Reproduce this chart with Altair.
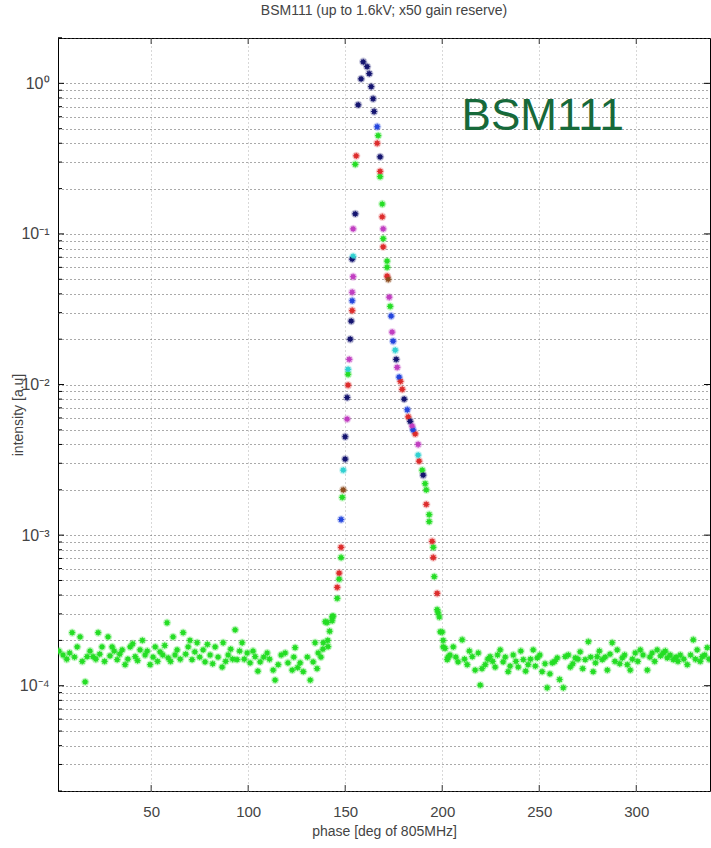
import altair as alt
import pandas as pd

# ---------------- data ----------------
green_x = [4.6, 9.3, 11.9, 13.4, 16, 17, 20.1, 22.7, 24.7, 27.8, 29.9, 32.5, 35.1, 36.6, 39.2, 41.8, 44.3, 46.9,
           49.5, 52.1, 54.6, 58.2, 58.8, 61.3, 63.4, 66.5, 69.1, 71.1, 73.7, 76.8, 77.8, 80.4, 83, 86.6, 87.1, 89.7,
           93.3, 94.3, 96.9, 99.5, 101, 103.6, 106.2, 109.8, 112.9, 113.9, 115.5, 119.1, 122.7, 124.2, 126.8, 128.4,
           132, 133.5, 136.1, 134.5, 139.7, 143.3,
           2.5, 6.5, 8, 10.5, 14.5, 18.5, 21.5, 23.5, 26, 28.8, 31, 33.8, 38, 40.5, 43, 45.5, 48, 51, 53.3, 56, 57,
           60, 62.3, 65, 67.8, 70, 72.5, 75, 79, 81.7, 84.5, 88.4, 91, 92, 95.6, 98, 102.5, 105, 108, 111, 117,
           120.5, 123.5, 125.5, 130.5, 135.5, 137.5, 138.5, 141, 142,
           197.9, 199, 200.5, 202.6, 205.7, 208.2, 210.3, 212.9, 215.5, 217, 219.6, 218.6, 222.2, 224.7, 227.3,
           229.9, 231.4, 234, 236.6, 239.2, 241.8, 244.3, 246.9, 249, 251.5, 254.1, 256.7, 259.3, 262.4, 263.4,
           266, 268.6, 271.1, 273.7, 275.3, 277.8, 279.9, 282.5, 285.1, 287.6, 290.2, 292.8, 295.4, 296.9, 299.5,
           302.1, 305.7, 308.2, 310.8, 313.9, 316, 319.1, 322.7, 326.3, 329.4, 331.4, 334, 336.6,
           204, 207, 211.5, 214, 220.5, 223.5, 226, 228.5, 232.5, 235, 238, 240.5, 243, 245.5, 248, 250.3, 253,
           255.5, 258, 260.5, 265, 267.3, 270, 272.4, 276.5, 279, 281, 284, 286.5, 289, 291.5, 294, 298, 300.8,
           303.5, 307, 309.5, 312.5, 315, 317.5, 320.5, 321.5, 324.5, 328, 330.5, 333, 335.3, 337.5,
           167, 155.2, 168, 169.1, 169.6, 171.6, 171.6, 173.2, 151.5, 189.7, 191.2, 191.8, 193.3, 193.3, 148.5,
           147.9, 146.9, 145.9, 143.8, 143.3, 140.7, 141.2, 138.7, 195.4, 195.9, 197.4, 198.5, 200, 200.5, 201.5,
           203]
green_y = [1.60e-4, 2.25e-4, 1.81e-4, 2.11e-4, 1.06e-4, 1.56e-4, 1.56e-4, 2.25e-4, 1.81e-4, 2.11e-4, 1.81e-4,
           1.49e-4, 1.73e-4, 1.38e-4, 1.81e-4, 1.56e-4, 1.73e-4, 1.60e-4, 1.38e-4, 1.81e-4, 1.68e-4, 2.62e-4,
           1.53e-4, 2.11e-4, 1.73e-4, 2.25e-4, 1.81e-4, 1.49e-4, 1.93e-4, 1.73e-4, 1.44e-4, 1.60e-4, 1.81e-4,
           1.33e-4, 1.93e-4, 1.60e-4, 2.35e-4, 1.49e-4, 1.93e-4, 1.65e-4, 1.42e-4, 1.56e-4, 1.44e-4, 1.65e-4,
           1.27e-4, 1.09e-4, 1.38e-4, 1.65e-4, 1.27e-4, 1.79e-4, 1.42e-4, 1.24e-4, 1.09e-4, 1.44e-4, 1.65e-4,
           1.93e-4, 2.66e-4, 2.87e-4,
           1.7e-4, 1.5e-4, 1.65e-4, 1.55e-4, 1.45e-4, 1.7e-4, 1.5e-4, 1.62e-4, 1.45e-4, 1.58e-4, 1.7e-4, 1.62e-4,
           1.5e-4, 1.9e-4, 1.47e-4, 2.0e-4, 1.7e-4, 1.55e-4, 1.45e-4, 1.6e-4, 1.85e-4, 1.45e-4, 1.6e-4, 1.5e-4,
           1.62e-4, 2.0e-4, 1.68e-4, 1.55e-4, 1.88e-4, 1.4e-4, 1.55e-4, 1.45e-4, 1.75e-4, 1.5e-4, 1.7e-4, 1.5e-4,
           1.7e-4, 1.25e-4, 1.55e-4, 1.5e-4, 1.6e-4, 1.42e-4, 1.55e-4, 1.32e-4, 1.55e-4, 1.3e-4, 1.55e-4, 1.75e-4,
           2.0e-4, 2.3e-4,
           3.05e-4, 2.28e-4, 1.81e-4, 1.49e-4, 1.81e-4, 1.44e-4, 2.02e-4, 1.38e-4, 1.56e-4, 1.27e-4, 1.01e-4,
           1.65e-4, 1.38e-4, 1.56e-4, 1.33e-4, 1.73e-4, 1.44e-4, 1.24e-4, 1.60e-4, 1.33e-4, 1.49e-4, 1.38e-4,
           1.73e-4, 1.53e-4, 1.24e-4, 0.97e-4, 1.42e-4, 1.53e-4, 0.97e-4, 1.56e-4, 1.33e-4, 1.53e-4, 1.68e-4,
           1.49e-4, 1.96e-4, 1.24e-4, 1.56e-4, 1.49e-4, 1.27e-4, 1.93e-4, 1.73e-4, 1.53e-4, 1.38e-4, 1.27e-4,
           1.65e-4, 1.73e-4, 1.27e-4, 1.65e-4, 1.73e-4, 1.65e-4, 1.53e-4, 1.49e-4, 1.60e-4, 1.38e-4, 2.02e-4,
           1.73e-4, 1.56e-4, 1.79e-4,
           1.6e-4, 1.55e-4, 1.5e-4, 1.7e-4, 1.3e-4, 1.5e-4, 1.45e-4, 1.6e-4, 1.55e-4, 1.35e-4, 1.45e-4, 1.7e-4,
           1.25e-4, 1.5e-4, 1.35e-4, 1.6e-4, 1.4e-4, 1.2e-4, 1.45e-4, 1.1e-4, 1.6e-4, 1.4e-4, 1.5e-4, 1.3e-4,
           1.55e-4, 1.42e-4, 1.7e-4, 1.55e-4, 1.62e-4, 1.45e-4, 1.4e-4, 1.6e-4, 1.5e-4, 1.45e-4, 1.6e-4, 1.55e-4,
           1.45e-4, 1.58e-4, 1.7e-4, 1.6e-4, 1.55e-4, 1.45e-4, 1.5e-4, 1.6e-4, 1.5e-4, 1.45e-4, 1.6e-4, 1.5e-4,
           0.45, 0.29, 0.24, 0.158, 0.093, 0.066, 0.060, 0.033, 0.0117, 0.0027, 0.0022, 0.0020, 0.00137, 0.00123,
           0.00178, 0.00071, 0.00051, 0.00038, 0.00029, 0.00027, 0.000263, 0.000182, 0.000193, 0.00083, 0.00053,
           0.00032, 0.000286, 0.000227, 0.0002, 0.000177, 0.000155]

red_x = [166.5, 155.7, 168, 169.1, 169.6, 171.6, 153.6, 151.5, 179.4, 182.5, 186.1, 188.1, 191.8, 147.9, 146.9,
         145.9, 194.8, 195.4, 197.4, 178.5]
red_y = [0.40, 0.33, 0.26, 0.13, 0.082, 0.0525, 0.031, 0.0099, 0.0093, 0.0061, 0.0047, 0.0031, 0.0016, 0.00083,
         0.00056, 0.00045, 0.00091, 0.00071, 0.00041, 0.0105]

navy_x = [159.3, 161.3, 162.4, 158.2, 163.4, 164.4, 156.7, 164.9, 168, 155.2, 153.6, 153.1, 152.6, 176.3, 151,
          180.4, 150, 190.2, 150, 183.5]
navy_y = [1.39, 1.29, 1.16, 1.07, 0.95, 0.79, 0.72, 0.65, 0.325, 0.136, 0.068, 0.0264, 0.020, 0.0147, 0.0082,
          0.0080, 0.0045, 0.0025, 0.0032, 0.0057]

blue_x = [166.5, 153.6, 173.7, 174.7, 177.8, 182, 147.9, 185]
blue_y = [0.515, 0.036, 0.0285, 0.0194, 0.0112, 0.0068, 0.00127, 0.005]

magenta_x = [154.1, 169.6, 154.1, 153.6, 172.7, 174.2, 152.1, 176.8, 151, 184.5, 187.6]
magenta_y = [0.108, 0.108, 0.052, 0.041, 0.038, 0.0223, 0.0147, 0.013, 0.0059, 0.0053, 0.0040]

cyan_x = [154.1, 175.8, 151.5, 187.6, 149]
cyan_y = [0.071, 0.0169, 0.0126, 0.0034, 0.0027]

brown_x = [172.2, 149]
brown_y = [0.050, 0.0020]

series_names = ["green", "red", "navy", "blue", "magenta", "cyan", "brown"]
series_colors = ["#22dd22", "#dd2a2a", "#12126e", "#2244dd", "#c03cc0", "#2ed0d0", "#8b4a1c"]

x_ticks = [50, 100, 150, 200, 250, 300]
y_major = [1e-4, 1e-3, 1e-2, 1e-1, 1.0]
y_grid = [m * 10.0 ** k for k in range(-5, 1) for m in range(1, 10)] + [2.0]
y_grid = [v for v in y_grid if 2e-5 * 0.999 <= v <= 2.0 * 1.001]
y_minor = [v for v in y_grid if all(abs(v - M) / M > 1e-6 for M in y_major)]

title_text = "BSM111  (up to 1.6kV; x50 gain reserve)"
x_title = "phase [deg of 805MHz]"
y_title = "intensity [a.u]"
note_text = "BSM111"

# ---------------- build table ----------------
rows = []
for name, xs_, ys_ in [("green", green_x, green_y), ("red", red_x, red_y), ("navy", navy_x, navy_y),
                       ("blue", blue_x, blue_y), ("magenta", magenta_x, magenta_y),
                       ("cyan", cyan_x, cyan_y), ("brown", brown_x, brown_y)]:
    for a, b in zip(xs_, ys_):
        rows.append({"x": a, "y": b, "s": name})
df = pd.DataFrame(rows)

W, H = 652, 753
NARROW = "Liberation Sans Narrow, Liberation Sans, Arial, sans-serif"

xs = alt.Scale(domain=[2, 338], nice=False, zero=False)
ys = alt.Scale(type="log", domain=[2e-5, 2], nice=False)

x_axis = alt.Axis(values=x_ticks, grid=True, gridColor="#b0b0b0", gridDash=[1, 3], gridWidth=1,
                  ticks=False, domain=False, labelFont=NARROW, labelFontSize=15, labelColor="#444",
                  labelPadding=13, title=x_title, titleFont=NARROW, titleFontSize=14,
                  titleFontWeight="normal", titleColor="#444", titleX=W / 2, titleY=40,
                  titleBaseline="middle", titleAlign="center")
label_expr = ("abs(log(datum.value)/LN10 - round(log(datum.value)/LN10)) < 0.001 ? "
              "['10⁻⁴','10⁻³','10⁻²','10⁻¹','10⁰'][round(log(datum.value)/LN10)+4] : ''")
y_axis = alt.Axis(values=y_grid, grid=True, gridColor="#555", gridDash=[1, 3], gridWidth=1,
                  ticks=False, domain=False, labelExpr=label_expr, labelFont=NARROW, labelFontSize=16,
                  labelColor="#444", labelPadding=9, labelOverlap=False, labelBaseline="middle",
                  title=y_title, titleFont="Liberation Sans, Arial", titleFontSize=14,
                  titleFontWeight="normal", titleColor="#444", titleX=-40, titleY=H / 2,
                  titleAngle=270, titleBaseline="middle", titleAlign="center")

color = alt.Color("s:N", scale=alt.Scale(domain=series_names, range=series_colors), legend=None)

base = alt.Chart(df).encode(
    x=alt.X("x:Q", scale=xs, axis=x_axis),
    y=alt.Y("y:Q", scale=ys, axis=y_axis),
    color=color,
)
asterisk = "M-1,0L1,0M0,-1L0,1M-0.7,-0.7L0.7,0.7M-0.7,0.7L0.7,-0.7"
halo = base.mark_circle(size=70, opacity=0.22, clip=True)
core = base.mark_circle(size=22, opacity=0.9, clip=True)
stars = base.mark_point(shape=asterisk, filled=False, size=40, strokeWidth=1.2, opacity=0.85, clip=True)

ymaj_df = pd.DataFrame({"v": y_major})
ymin_df = pd.DataFrame({"v": y_minor})
xt_df = pd.DataFrame({"v": x_ticks})

ytick_major = alt.Chart(ymaj_df).mark_rule(color="black", strokeWidth=1).encode(
    y=alt.Y("v:Q", scale=ys, axis=y_axis), x=alt.value(0), x2=alt.value(6))
ytick_minor = alt.Chart(ymin_df).mark_rule(color="black", strokeWidth=1).encode(
    y=alt.Y("v:Q", scale=ys, axis=y_axis), x=alt.value(0), x2=alt.value(4))
ytick_major_r = alt.Chart(ymaj_df).mark_rule(color="black", strokeWidth=1).encode(
    y=alt.Y("v:Q", scale=ys, axis=y_axis), x=alt.value(W - 6), x2=alt.value(W))
xtick_bottom = alt.Chart(xt_df).mark_rule(color="#333", strokeWidth=1).encode(
    x=alt.X("v:Q", scale=xs, axis=x_axis), y=alt.value(H - 6), y2=alt.value(H))
xtick_top = alt.Chart(xt_df).mark_rule(color="#333", strokeWidth=1).encode(
    x=alt.X("v:Q", scale=xs, axis=x_axis), y=alt.value(0), y2=alt.value(6))

note = alt.Chart(pd.DataFrame({"x": [210.0], "y": [0.6], "t": [note_text]})).mark_text(
    align="left", baseline="middle", fontSize=44, font="Liberation Sans, Arial", color="#17693a"
).encode(x=alt.X("x:Q", scale=xs, axis=x_axis), y=alt.Y("y:Q", scale=ys, axis=y_axis), text="t:N")

chart = alt.layer(halo, stars, core, ytick_major, ytick_minor, ytick_major_r, xtick_bottom, xtick_top,
                  note).properties(
    width=W, height=H,
    title=alt.TitleParams(title_text, font=NARROW, fontSize=14, fontWeight="normal", color="#444",
                          anchor="middle", offset=12),
    padding={"left": 58, "top": 38, "right": 1, "bottom": 57},
    autosize=alt.AutoSizeParams(type="none"),
    background="white",
).configure_view(stroke="black", strokeWidth=1)

chart.save("out.html", embed_options={"renderer": "svg", "actions": False})
